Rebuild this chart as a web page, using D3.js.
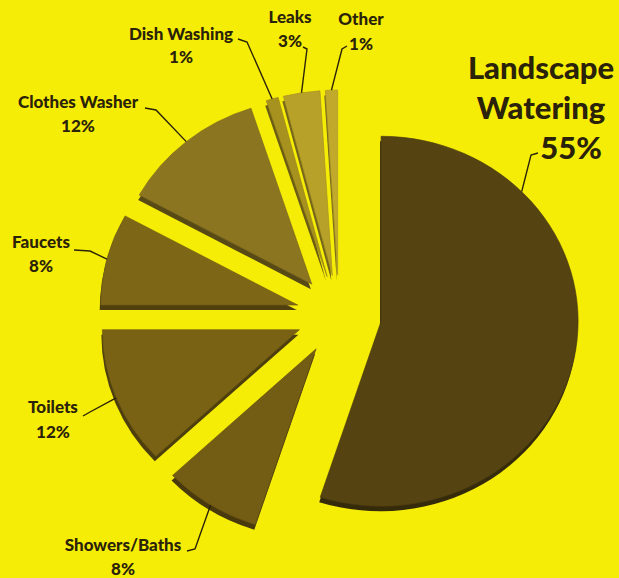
<!DOCTYPE html>
<html>
<head>
<meta charset="utf-8">
<script src="https://cdn.jsdelivr.net/npm/d3@7"></script>
<style>
  body { margin: 0; background: #f6ed06; }
  text { font-family: Lato, "Open Sans", sans-serif; font-weight: 900; fill: #2a2209; }
</style>
</head>
<body>
<script>
var width = 619;
var height = 578;

// data
var categories = ["Landscape Watering", "Showers/Baths", "Toilets", "Faucets",
                  "Clothes Washer", "Dish Washing", "Leaks", "Other"];
var shares = [55, 8, 12, 8, 12, 1, 3, 1];
var shareLabels = ["55%", "8%", "12%", "8%", "12%", "1%", "3%", "1%"];

// looks
var colours = ["#554411", "#735c13", "#7a6215", "#7e6617", "#8b7521", "#a8921f", "#b8a128", "#c1a92c"];

// label layout: centre x, baseline y, leader start/elbow, where on the arc the leader lands
var labelLayout = [
  {x: 541, y: 79, size: 31, split: true, gap: 40, pct: {x: 571, y: 159}, from: [538, 153], elbow: [531, 155], at: 0.23},
  {x: 123, y: 551, size: 17, gap: 24, from: [187, 551], elbow: [195, 549], at: 0.5},
  {x: 53, y: 413, size: 17, gap: 25, from: [83, 416], elbow: [90, 412], at: 0.5},
  {x: 41, y: 248, size: 17, gap: 24, from: [74, 250], elbow: [90, 251], at: 0.5},
  {x: 78, y: 108, size: 17, gap: 24, from: [145, 108], elbow: [156, 110], at: 0.5},
  {x: 181, y: 40, size: 17, gap: 23, from: [238, 39], elbow: [247, 42], at: 0.5},
  {x: 290, y: 23, size: 17, gap: 24, from: [303, 47], elbow: [307, 49], at: 0.5},
  {x: 361, y: 25, size: 17, gap: 25, from: [347, 46], elbow: [342, 49], at: 0.5}
];

var centre = {x: 339, y: 315};
var radius = 185;
var sx = 1.065;       // pie is slightly wider than tall
var explode = 40;
var depth = 5;

var svg = d3.select("body").append("svg")
    .attr("width", width)
    .attr("height", height);

svg.append("rect")
    .attr("width", width)
    .attr("height", height)
    .attr("fill", "#f6ed06");

var pie = d3.pie().sort(null).startAngle(0).endAngle(2 * Math.PI);
var arcs = pie(shares);

var arc = d3.arc().innerRadius(0).outerRadius(radius);

function apex(d) {
  var mid = (d.startAngle + d.endAngle) / 2;
  return [centre.x + explode * sx * Math.sin(mid), centre.y - explode * Math.cos(mid)];
}

// side walls first, then the tops
var sides = svg.append("g");
sides.selectAll("path")
    .data(arcs)
  .enter().append("path")
    .attr("transform", function(d) {
      var p = apex(d);
      return "translate(" + (p[0] - 1) + "," + (p[1] + depth) + ") scale(" + sx + ",1)";
    })
    .attr("d", arc)
    .attr("fill", function(d, i) { return d3.color(colours[i]).darker(1.3); });

var tops = svg.append("g");
tops.selectAll("path")
    .data(arcs)
  .enter().append("path")
    .attr("transform", function(d) {
      var p = apex(d);
      return "translate(" + p[0] + "," + p[1] + ") scale(" + sx + ",1)";
    })
    .attr("d", arc)
    .attr("fill", function(d, i) { return colours[i]; })
    .attr("stroke", function(d, i) { return d3.color(colours[i]).darker(0.4); })
    .attr("stroke-width", 0.6);

// leader lines
var line = d3.line().curve(d3.curveLinear);
svg.append("g").selectAll("path")
    .data(arcs)
  .enter().append("path")
    .attr("d", function(d, i) {
      var L = labelLayout[i];
      var p = apex(d);
      var a = d.startAngle + L.at * (d.endAngle - d.startAngle);
      var end = [p[0] + sx * radius * Math.sin(a), p[1] - radius * Math.cos(a)];
      return line([L.from, L.elbow, end]);
    })
    .attr("fill", "none")
    .attr("stroke", "#2a2209")
    .attr("stroke-width", 1.4);

// labels
var labels = svg.append("g").selectAll("g")
    .data(categories)
  .enter().append("g");

labels.each(function(name, i) {
  var L = labelLayout[i];
  var g = d3.select(this);
  var lines = L.split ? name.split(" ") : [name];
  lines.forEach(function(t, k) {
    g.append("text")
        .attr("x", L.x)
        .attr("y", L.y + k * L.gap)
        .attr("text-anchor", "middle")
        .style("font-size", L.size + "px")
        .text(t);
  });
  g.append("text")
      .attr("x", L.pct ? L.pct.x : L.x)
      .attr("y", L.pct ? L.pct.y : L.y + L.gap)
      .attr("text-anchor", "middle")
      .style("font-size", L.size + "px")
      .text(shareLabels[i]);
});
</script>
</body>
</html>
